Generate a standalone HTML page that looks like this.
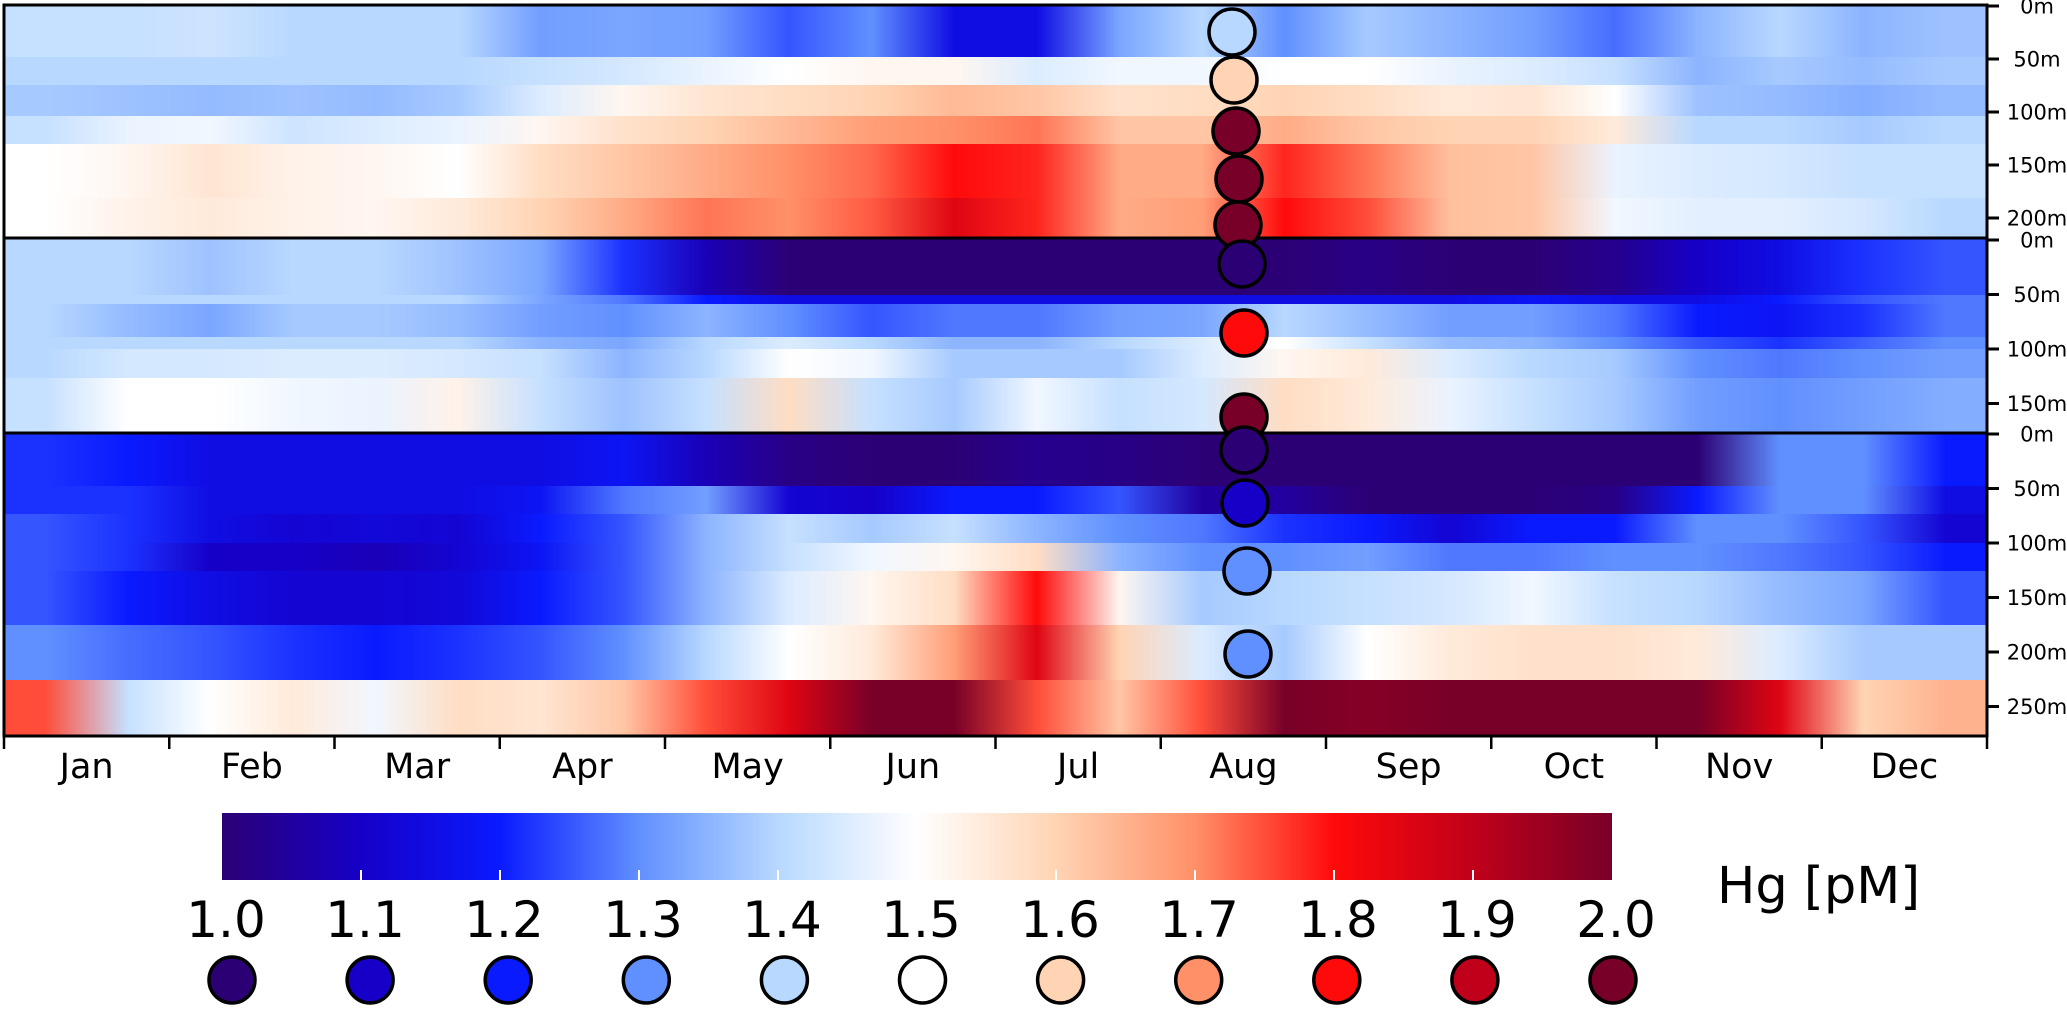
<!DOCTYPE html>
<html><head><meta charset="utf-8"><style>
html,body{margin:0;padding:0;background:#fff;}
svg{display:block;font-family:"DejaVu Sans","Liberation Sans",sans-serif;}
</style></head><body>
<svg id="chart" width="2067" height="1011" viewBox="0 0 2067 1011" xmlns="http://www.w3.org/2000/svg">
<defs id="defs"></defs>
<g id="heat"></g>
<g id="frames"></g>
<g id="axes"></g>
<g id="obs"></g>
<g id="cbar"></g>
</svg>
<script>
const months = ["Jan","Feb","Mar","Apr","May","Jun","Jul","Aug","Sep","Oct","Nov","Dec"];
const cbTicks = [1.0,1.1,1.2,1.3,1.4,1.5,1.6,1.7,1.8,1.9,2.0];
const depthTicksP1 = ["0m","50m","100m","150m","200m"];
const depthTicksP2 = ["0m","50m","100m","150m"];
const depthTicksP3 = ["0m","50m","100m","150m","200m","250m"];
// half-month values (24 per row), Hg pM
const p1r0 = [1.42,1.42,1.43,1.40,1.40,1.40,1.32,1.33,1.32,1.25,1.30,1.15,1.15,1.33,1.40,1.30,1.38,1.35,1.32,1.27,1.35,1.40,1.35,1.37];
const p1r1 = [1.40,1.40,1.40,1.40,1.40,1.40,1.42,1.44,1.47,1.50,1.52,1.52,1.45,1.48,1.48,1.50,1.50,1.47,1.45,1.42,1.35,1.38,1.36,1.38];
const p1r2 = [1.38,1.37,1.36,1.37,1.36,1.38,1.45,1.52,1.56,1.58,1.60,1.64,1.62,1.57,1.58,1.60,1.58,1.55,1.56,1.50,1.37,1.36,1.34,1.36];
const p1r3 = [1.42,1.47,1.48,1.43,1.45,1.47,1.52,1.57,1.60,1.64,1.68,1.70,1.72,1.62,1.62,1.66,1.62,1.60,1.60,1.55,1.40,1.40,1.38,1.40];
const p1r4 = [1.50,1.52,1.56,1.53,1.52,1.50,1.58,1.62,1.66,1.70,1.73,1.80,1.78,1.66,1.66,1.78,1.72,1.63,1.62,1.47,1.45,1.44,1.42,1.42];
const p1r5 = [1.50,1.53,1.55,1.53,1.52,1.55,1.60,1.66,1.72,1.70,1.74,1.85,1.78,1.66,1.68,1.80,1.75,1.63,1.62,1.48,1.46,1.46,1.44,1.40];
const p2r0 = [1.40,1.40,1.37,1.40,1.40,1.37,1.33,1.22,1.08,1.00,1.00,1.00,1.00,1.00,1.00,1.00,1.02,1.00,1.00,1.03,1.10,1.15,1.22,1.25];
const p2r1 = [1.40,1.40,1.40,1.40,1.40,1.40,1.33,1.28,1.20,1.15,1.15,1.15,1.15,1.15,1.15,1.15,1.15,1.15,1.18,1.15,1.15,1.20,1.25,1.28];
const p2r2 = [1.40,1.36,1.33,1.38,1.38,1.36,1.32,1.30,1.35,1.30,1.25,1.28,1.28,1.32,1.33,1.40,1.36,1.32,1.32,1.28,1.20,1.18,1.22,1.28];
const p2r3 = [1.40,1.40,1.40,1.40,1.40,1.40,1.35,1.33,1.40,1.45,1.40,1.35,1.35,1.40,1.45,1.50,1.42,1.36,1.35,1.30,1.25,1.22,1.26,1.30];
const p2r4 = [1.40,1.44,1.44,1.45,1.45,1.44,1.42,1.35,1.40,1.50,1.48,1.38,1.38,1.38,1.45,1.52,1.55,1.45,1.40,1.38,1.30,1.28,1.30,1.32];
const p2r5 = [1.42,1.50,1.50,1.48,1.47,1.53,1.42,1.37,1.42,1.58,1.42,1.38,1.48,1.42,1.44,1.58,1.55,1.47,1.42,1.38,1.32,1.30,1.32,1.34];
const p3r0 = [1.22,1.20,1.15,1.15,1.15,1.15,1.15,1.18,1.08,1.02,1.00,1.00,1.03,1.02,1.00,1.00,1.00,1.00,1.00,1.00,1.00,1.30,1.30,1.20];
const p3r1 = [1.22,1.22,1.15,1.15,1.15,1.15,1.18,1.28,1.32,1.12,1.10,1.20,1.20,1.25,1.05,1.05,1.00,1.00,1.00,1.02,1.20,1.30,1.30,1.15];
const p3r2 = [1.25,1.22,1.15,1.12,1.13,1.12,1.20,1.25,1.35,1.42,1.38,1.42,1.35,1.30,1.28,1.22,1.20,1.12,1.20,1.20,1.30,1.30,1.25,1.12];
const p3r3 = [1.25,1.22,1.10,1.10,1.08,1.12,1.18,1.25,1.35,1.42,1.48,1.52,1.58,1.35,1.30,1.30,1.32,1.28,1.28,1.30,1.30,1.28,1.25,1.20];
const p3r4 = [1.25,1.20,1.15,1.12,1.12,1.13,1.20,1.25,1.35,1.45,1.52,1.58,1.80,1.52,1.38,1.40,1.42,1.44,1.48,1.42,1.40,1.36,1.33,1.25];
const p3r5 = [1.30,1.27,1.25,1.22,1.20,1.22,1.25,1.30,1.40,1.50,1.55,1.68,1.85,1.60,1.45,1.38,1.50,1.55,1.57,1.57,1.55,1.45,1.38,1.38];
const p3r6 = [1.75,1.42,1.50,1.55,1.48,1.58,1.56,1.62,1.75,1.85,2.00,2.00,1.75,1.62,1.75,2.00,1.98,2.00,2.00,2.00,2.00,1.85,1.60,1.65];
// observation circles (values)
const obsP1 = [1.4,1.6,2.0,2.0,2.0];
const obsP2 = [1.0,1.8,2.0];
const obsP3 = [1.0,1.1,1.3,1.3];

const NS="http://www.w3.org/2000/svg";
function mk(tag,attrs,parent){const e=document.createElementNS(NS,tag);for(const k in attrs)e.setAttribute(k,attrs[k]);if(parent)parent.appendChild(e);return e;}
const cmStops=[[1.0,[44,0,117]],[1.1,[22,0,200]],[1.2,[10,26,255]],[1.3,[96,144,255]],[1.4,[184,216,255]],[1.5,[255,255,255]],[1.6,[255,212,180]],[1.7,[255,144,104]],[1.8,[255,10,10]],[1.9,[192,0,26]],[2.0,[120,0,40]]];
function cmap(v){v=Math.max(1,Math.min(2,v));for(let i=0;i<cmStops.length-1;i++){const a=cmStops[i],b=cmStops[i+1];if(v<=b[0]){const t=(v-a[0])/(b[0]-a[0]);const c=a[1].map((x,j)=>Math.round(x+(b[1][j]-x)*t));return `rgb(${c[0]},${c[1]},${c[2]})`;}}return 'rgb(120,0,40)';}
const X0=4,X1=1987;
function xDay(f){return X0+(X1-X0)*f;}
const defs=document.getElementById('defs');
const heat=document.getElementById('heat');
let gid=0;
function row(vals,y0,y1,name){
  const id='g'+(gid++);
  const lg=mk('linearGradient',{id:id,x1:0,x2:1,y1:0,y2:0},defs);
  vals.forEach((v,i)=>{mk('stop',{offset:((i+0.5)/vals.length).toFixed(4),'stop-color':cmap(v)},lg);});
  const r=mk('rect',{x:X0,y:y0,width:X1-X0,height:y1-y0,fill:`url(#${id})`},heat);
  
  
}
const p1=[p1r0,p1r1,p1r2,p1r3,p1r4,p1r5], p1y=[6,57,85,116,144,198,238];
const p2=[p2r0,p2r1,p2r2,p2r3,p2r4,p2r5], p2y=[238,295,304,337,349,378,433];
const p3=[p3r0,p3r1,p3r2,p3r3,p3r4,p3r5,p3r6], p3y=[433,486,514,543,571,625,680,736];
p1.forEach((r,i)=>row(r,p1y[i],p1y[i+1],'panel1-row-'+i));
p2.forEach((r,i)=>row(r,p2y[i],p2y[i+1],'panel2-row-'+i));
p3.forEach((r,i)=>row(r,p3y[i],p3y[i+1],'panel3-row-'+i));

const fr=document.getElementById('frames');
[[5,238],[238,433],[433,736]].forEach((p,i)=>{
  const r=mk('rect',{x:X0,y:p[0],width:X1-X0,height:p[1]-p[0],fill:'none',stroke:'#000','stroke-width':3},fr);
  
  
});
const ax=document.getElementById('axes');
for(let k=0;k<=12;k++){
  const x=xDay(k/12);
  const t=mk('line',{x1:x,x2:x,y1:736,y2:749,stroke:'#000','stroke-width':2.5},ax);
  
  
}
months.forEach((m,k)=>{
  const t=mk('text',{x:xDay((k+0.5)/12),y:778,'font-size':35,'text-anchor':'middle',fill:'#000'},ax);
  t.textContent=m;
  
  
});
function depthAxis(labels,y0,step,name){
  labels.forEach((l,i)=>{
    const y=y0+i*step;
    const t=mk('line',{x1:X1,x2:1999,y1:y,y2:y,stroke:'#000','stroke-width':3},ax);
    
    
    const tx=mk('text',{x:2037,y:y+7.5,'font-size':21,'text-anchor':'middle',fill:'#000'},ax);
    tx.textContent=l;
    
    
  });
}
depthAxis(depthTicksP1,6,53,'panel1-depth');
depthAxis(depthTicksP2,240,54.5,'panel2-depth');
depthAxis(depthTicksP3,434,54.5,'panel3-depth');

const ob=document.getElementById('obs');
function circ(v,cx,cy,name,parent){
  const c=mk('circle',{cx:cx,cy:cy,r:23,fill:cmap(v),stroke:'#000','stroke-width':3.5},parent);
  
  
}
const obsY1=[32,80,131,179,225], obsX1=[1232,1234,1236,1239,1238];
const obsY2=[264,333,417], obsX2=[1242,1244,1244];
const obsY3=[450,503,571,654], obsX3=[1244,1245,1247,1248];
obsP1.forEach((v,i)=>circ(v,obsX1[i],obsY1[i],'panel1-observation',ob));
obsP2.forEach((v,i)=>circ(v,obsX2[i],obsY2[i],'panel2-observation',ob));
obsP3.forEach((v,i)=>circ(v,obsX3[i],obsY3[i],'panel3-observation',ob));

const cb=document.getElementById('cbar');
const CB0=222,CB1=1612;
function cbx(v){return CB0+(CB1-CB0)*(v-1.0);}
const lg=mk('linearGradient',{id:'cbg',x1:0,x2:1,y1:0,y2:0},defs);
for(let i=0;i<=50;i++){const v=1+i/50;mk('stop',{offset:i/50,'stop-color':cmap(v)},lg);}
const cr=mk('rect',{x:CB0,y:813,width:CB1-CB0,height:67,fill:'url(#cbg)'},cb);


cbTicks.forEach((v,i)=>{
  const x=cbx(v);
  if(i>0&&i<cbTicks.length-1){
    const tk=mk('line',{x1:x,x2:x,y1:870,y2:880,stroke:'#fff','stroke-width':2},cb);
    
    
  }
  const t=mk('text',{x:x+4,y:937,'font-size':50,'text-anchor':'middle',fill:'#000'},cb);
  t.textContent=v.toFixed(1);
  
  
  circ(v,232+i*138.1,980,'legend-circle-'+v.toFixed(1),cb);
});
const hg=mk('text',{x:1717,y:903,'font-size':51,fill:'#000'},cb);
hg.textContent='Hg [pM]';


</script>
</body></html>
